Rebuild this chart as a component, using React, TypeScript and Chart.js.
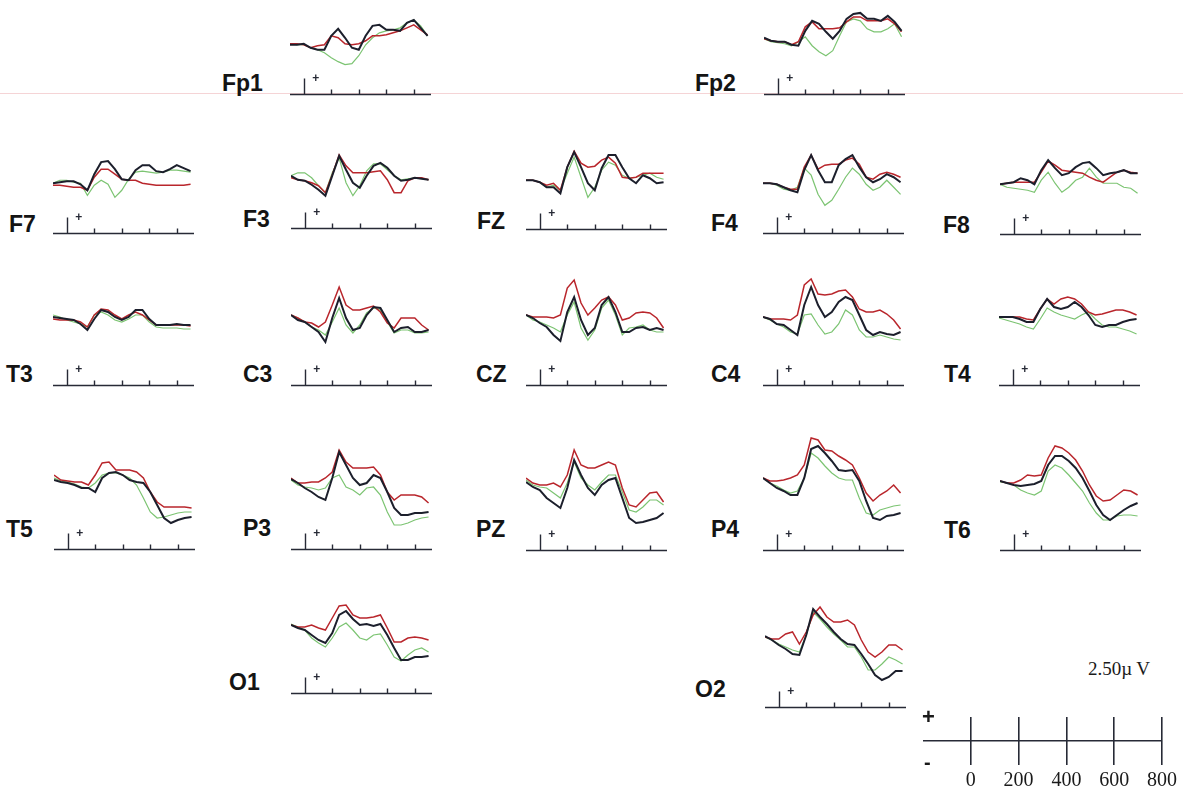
import React, { useEffect, useRef } from "react";
import { Chart, registerables } from "chart.js";

Chart.register(...registerables);

// ---------------- data ----------------
const times = [-100, -50, 0, 50, 100, 150, 200, 250, 300, 350, 400, 450, 500, 550, 600, 650, 700, 750, 800, 850, 900];
const axisTicks = [0, 200, 400, 600, 800];
const scaleTicks = [0, 200, 400, 600, 800];
const scaleAmplitude = "2.50µ";
const scaleUnit = "V";

const fp1Black = [-0.1, -0.1, 0, -0.4, -0.6, -0.6, 0.8, 1.5, 0.6, -0.4, -0.6, 0.8, 1.8, 1.9, 1.4, 1.4, 1.3, 2.1, 2.4, 1.6, 0.8];
const fp1Red = [0, 0, -0.1, -0.4, -0.2, -0.1, 0.8, 0.6, 0, -0.1, 0, 0.3, 0.8, 0.8, 0.9, 1.1, 1.3, 1.6, 1.9, 1.4, 0.9];
const fp1Green = [0, -0.1, -0.1, -0.4, -0.6, -0.9, -1.4, -1.8, -2.1, -2, -1.2, -0.1, 0.6, 1.1, 1.3, 1.4, 1.6, 2.1, 2.4, 1.8, 0.8];

const fp2Black = [0.1, -0.2, -0.3, -0.3, -0.6, -0.7, 0.8, 1.8, 1.5, 0.7, 0, 0.8, 2, 2.5, 2.6, 2, 2, 1.8, 2.3, 1.7, 0.8];
const fp2Red = [0, -0.2, -0.3, -0.3, -0.6, -0.3, 1.2, 1.7, 1, 1, 1, 1.1, 1.7, 2.2, 2.2, 1.8, 1.8, 1.8, 2, 1.5, 0.7];
const fp2Green = [0, -0.3, -0.4, -0.5, -0.7, -0.3, 0.2, -0.7, -1.3, -1.7, -1.2, 0.3, 1.7, 2, 1.8, 1, 0.7, 0.7, 1, 1.5, 0.2];

const f7Black = [0, 0.1, 0.2, 0.2, -0.1, -0.7, 0.9, 2.1, 2.2, 1.4, 0.4, 0.3, 1.3, 1.8, 1.8, 1.2, 1.1, 1.4, 1.8, 1.5, 1.2];
const f7Red = [-0.2, -0.2, -0.3, -0.4, -0.4, -0.7, 0.6, 1.4, 1.4, 0.9, 0.4, 0.3, 0.3, 0, -0.1, -0.2, -0.2, -0.2, -0.2, -0.2, -0.1];
const f7Green = [0, 0.3, 0.3, 0.1, 0, -1.2, -0.2, 0.3, -0.1, -1.4, -0.7, 0.4, 1.1, 1.2, 1.1, 1, 1.1, 1.3, 1.3, 1.2, 1.1];

const f3Black = [0.2, -0.2, -0.3, -0.7, -1.2, -1.8, 0.2, 2.2, 0.8, -0.5, -1, 0.2, 1.2, 1.5, 1, 0.2, -0.3, -0.2, 0, -0.1, -0.2];
const f3Red = [0, -0.2, -0.3, -0.5, -0.8, -1.5, 0.3, 2.3, 1.2, 0.5, 0.5, 0.5, 0.6, 0.7, -0.2, -1.5, -1.5, -0.3, 0, 0, -0.2];
const f3Green = [0.2, 0.5, 0.5, 0, -0.8, -1.5, 0.5, 2, -0.5, -1.8, -0.8, 0.7, 1.4, 1.4, 0.8, 0.2, -0.2, -0.1, 0, -0.1, -0.2];

const fzBlack = [0, 0, -0.2, -0.7, -0.7, -1.3, 1.3, 2.8, 1.3, -0.3, -1, 1.2, 2.5, 2.5, 1.3, 0.2, -0.3, 0.5, 0.2, -0.3, -0.2];
const fzRed = [0, 0, -0.2, -0.5, -0.3, -1, 1.3, 2.9, 1.7, 1.3, 1.4, 2, 2.3, 1.7, 0.3, 0.2, 0.3, 0.7, 0.7, 0.7, 0.7];
const fzGreen = [0, 0, -0.2, -0.7, -0.5, -1, 0.7, 2.3, 0.3, -1.7, -0.7, 1, 1.8, 1.5, 0.5, 0.2, 0.3, 0.5, 0.7, 0.3, 0.1];

const f4Black = [0, 0, -0.1, -0.4, -0.7, -0.9, 1.3, 2.8, 1.3, 0.1, 0.1, 1.8, 2.4, 2.8, 1.6, 0.6, 0.1, 0.4, 0.9, 0.6, 0.1];
const f4Red = [0, 0, -0.1, -0.4, -0.6, -0.6, 1.6, 2.8, 1.4, 1.8, 1.9, 1.9, 2.3, 2.5, 1.9, 0.6, 0.4, 0.9, 1.1, 0.9, 0.6];
const f4Green = [0, 0, -0.2, -0.6, -0.7, -0.4, 1.5, 0.8, -1.1, -2.2, -1.7, -0.6, 0.6, 1.5, 0.9, -0.1, -0.7, -0.4, 0.3, -0.4, -1.1];

const f8Black = [0, 0.1, 0.2, 0.6, 0.4, 0, 1.4, 2.4, 1.6, 0.9, 1.1, 1.7, 2.1, 2.2, 1.6, 0.9, 1.1, 1.2, 1.4, 1.1, 1.1];
const f8Red = [0, 0.1, 0.2, 0.2, 0.2, 0.2, 1.2, 2.3, 1.9, 1.4, 1.3, 1.2, 1.1, 0.7, 0.4, 0.2, 0.7, 1.2, 1.4, 1.2, 1.1];
const f8Green = [0, -0.3, -0.4, -0.5, -0.6, -0.8, 0.4, 1.2, 0.1, -0.8, -0.3, 0.4, 0.7, 1.6, 0.7, 0.1, 0.1, 0.1, -0.3, -0.4, -0.9];

const t3Black = [0, -0.1, -0.2, -0.3, -0.7, -1.3, -0.2, 0.7, 0.5, 0, -0.3, 0, 0.7, 0.7, -0.2, -0.8, -0.8, -0.8, -0.7, -0.8, -0.8];
const t3Red = [-0.2, -0.3, -0.3, -0.3, -0.5, -1, 0.2, 0.8, 0.7, 0.2, -0.2, 0.2, 0.5, 0.2, -0.3, -0.8, -0.8, -0.8, -0.8, -0.8, -0.9];
const t3Green = [0.2, 0, -0.3, -0.5, -0.7, -1, 0.2, 0.5, 0.2, -0.3, -0.5, -0.2, 0.2, 0.2, -0.5, -1, -1.1, -1.1, -1.1, -1.2, -1.2];

const c3Black = [0, -0.5, -0.7, -1.2, -1.7, -2.7, -0.3, 1.7, -0.3, -1.5, -1.3, 0, 0.8, 0.7, -0.5, -1.7, -1.3, -1.2, -1.7, -1.7, -1.5];
const c3Red = [0, -0.3, -0.7, -0.8, -1.2, -0.7, 1, 2.8, 1, 0.5, 0.5, 0.7, 0.9, 0.3, -0.8, -1.3, -0.3, -0.3, -0.3, -1, -1.5];
const c3Green = [0, -0.3, -0.7, -1.2, -1.5, -2, -0.7, 0.7, -1, -1.8, -1, 0.2, 0.7, 0.5, -0.7, -1.8, -1.5, -1.5, -1.8, -1.8, -1.7];

const czBlack = [0, -0.3, -0.8, -1.2, -2, -2.6, 0.3, 1.8, -0.5, -2, -1.3, 1, 1.8, 0.3, -1.7, -1.7, -1.3, -1.2, -1.5, -1.3, -1.5];
const czRed = [0, -0.2, -0.2, -0.2, -0.3, 0, 2.7, 3.5, 1.2, 0, 0.7, 1.5, 1.8, 1, -0.5, -0.3, 0.2, 0.3, 0.2, -0.3, -1.3];
const czGreen = [0, -0.5, -0.7, -1, -1.3, -1.7, 0, 1.3, -1.3, -2.5, -1.5, 0.7, 1.5, 0, -2, -1.3, -1.2, -1, -1.5, -1.7, -1.7];

const c4Black = [0, -0.2, -0.7, -0.8, -1.3, -1.8, 1.2, 3, 1.2, 0, 0.5, 1.5, 2, 1.7, 0.2, -1.3, -1.8, -1.5, -1.7, -1.8, -1.5];
const c4Red = [0, -0.2, -0.2, -0.2, -0.3, 0.2, 3.2, 3.8, 2.3, 2.2, 2.3, 2.6, 2.7, 2, 0.8, 0.5, 0.5, 0.7, 0.3, -0.3, -1.2];
const c4Green = [0, -0.3, -0.7, -1, -1.5, -1.7, 0.2, 0.3, -0.8, -1.7, -1.5, -0.7, 0.7, 0.2, -1.3, -2, -2, -1.8, -2, -2.2, -2.3];

const t4Black = [0, 0, 0, -0.2, -0.5, -0.5, 0.8, 1.8, 1, 0.8, 1, 1.5, 1, 0.2, -0.8, -1, -0.8, -0.8, -0.5, -0.3, -0.2];
const t4Red = [0, 0, 0, 0, -0.2, -0.3, 0.8, 1.8, 1.3, 1.8, 2, 1.8, 1.3, 0.5, 0.2, 0.3, 0.5, 0.7, 0.7, 0.5, 0.2];
const t4Green = [-0.1, -0.3, -0.5, -0.7, -1, -1.2, -0.2, 0.9, 0.5, 0.2, 0, -0.2, 0.2, 0.5, -0.2, -0.8, -1, -1, -1.2, -1.4, -1.7];

const t5Black = [0, -0.2, -0.3, -0.5, -0.8, -0.8, -1.2, 0.2, 0.7, 0.8, 0.5, 0, -0.2, -0.3, -1.2, -2.5, -3.8, -4.3, -4, -3.8, -3.7];
const t5Red = [0.5, 0, -0.1, -0.2, -0.2, -0.5, 0.5, 1.7, 1.8, 1, 1, 1, 0.8, 0.2, -1.2, -2.2, -2.7, -2.7, -2.7, -2.7, -2.8];
const t5Green = [0.2, -0.1, -0.2, -0.4, -0.7, -0.8, -0.3, 0.5, 0.7, 0.7, 0.5, 0.2, -0.5, -1.8, -3.2, -3.8, -3.7, -3.5, -3.3, -3.2, -3.2];

const p3Black = [0.1, -0.3, -0.8, -1.2, -1.7, -2, 0.2, 2.8, 1.5, 0.2, -0.5, -0.3, 0.5, 0.2, -1.2, -2.8, -3.5, -3.5, -3.3, -3.3, -3.2];
const p3Red = [0.2, -0.3, -0.3, -0.2, -0.2, 0.2, 0.8, 3, 1.8, 1.2, 1.2, 1.2, 1.3, 0.5, -1.2, -2, -1.5, -1.5, -1.5, -1.7, -2.3];
const p3Green = [0, -0.5, -0.7, -0.8, -1, -0.8, 0.2, 0.5, -0.7, -1, -1.5, -0.8, -0.7, -1.5, -3.2, -4.5, -4.5, -4.3, -4, -3.8, -3.7];

const pzBlack = [-0.2, -0.7, -1, -1.8, -2.3, -2.8, -0.8, 2, 0.5, -0.8, -1.5, -0.5, 0, 0.2, -1.8, -3.8, -4.3, -4.2, -4, -3.8, -3.3];
const pzRed = [0.2, -0.3, -0.5, -0.5, -0.3, -0.7, 0.5, 3, 1.5, 1.2, 1.2, 1.5, 1.8, 1.5, -0.8, -2.5, -2.7, -2, -1.3, -1.2, -2.2];
const pzGreen = [0, -0.5, -0.7, -0.8, -1.3, -1.8, -0.3, 1.8, 0.2, -0.5, -1, -0.2, 0.5, 0.5, -1.2, -3, -3.2, -2.7, -2, -2, -2.5];

const p4Black = [0, -0.5, -1, -1.3, -1.7, -1.7, 0, 2.9, 3.2, 2.5, 1.7, 0.8, 0.7, 0.8, -0.3, -2.3, -4, -4.2, -3.8, -3.7, -3.5];
const p4Red = [0, -0.3, -0.3, -0.2, 0, 0.3, 1.3, 4, 3.8, 2.8, 2.7, 2.2, 1.8, 1.3, 0, -1.5, -2.3, -1.7, -1.3, -0.7, -1.5];
const p4Green = [0, -0.5, -0.8, -1.2, -1.5, -1.3, 0, 2.5, 2, 1.2, 0.5, 0, -0.2, -0.2, -2, -3.5, -3.7, -3.2, -3, -2.8, -2.7];

const t6Black = [0.1, -0.1, -0.3, -0.4, -0.3, -0.2, 0.1, 1.7, 2.6, 2.6, 2.1, 1.4, 0.4, -0.9, -2.3, -3.3, -3.8, -3.3, -2.8, -2.4, -2.1];
const t6Red = [0.1, -0.1, -0.1, 0.2, 0.7, 0.6, 0.7, 2.4, 3.6, 3.4, 2.9, 2.2, 1.1, -0.3, -1.4, -1.9, -1.8, -1.3, -0.8, -0.9, -1.3];
const t6Green = [0, -0.1, -0.3, -0.8, -1.1, -1.3, -0.9, 1.1, 1.7, 1.4, 0.7, -0.1, -0.9, -2.1, -3.1, -3.8, -3.8, -3.4, -3.3, -3.3, -3.4];

const o1Black = [0, -0.3, -0.5, -1, -1.5, -1.8, -0.8, 1, 1.4, 0.6, 0, 0.1, -0.1, 0.1, -1, -2.3, -3.5, -3.5, -3.2, -3.2, -3.1];
const o1Red = [0, -0.2, -0.2, 0, -0.3, -0.5, 0.7, 1.9, 2, 1, 0.7, 0.7, 0.8, 1, -0.3, -1.7, -1.7, -1.3, -1.2, -1.3, -1.5];
const o1Green = [0.1, -0.2, -0.5, -1.3, -1.8, -2.2, -1.3, -0.2, 0.2, -0.5, -1.3, -1.5, -1, -0.9, -2, -3.2, -3.6, -3, -2.5, -2.3, -2.7];

const o2Black = [0.1, -0.3, -0.8, -1.2, -1.7, -1.8, 0.2, 2.8, 2, 1.3, 0.5, -0.2, -0.7, -0.8, -1.7, -2.7, -3.8, -4.3, -4, -3.4, -3.4];
const o2Red = [0, -0.2, -0.2, 0.3, 0.5, -0.7, 0.5, 2.2, 3, 2, 1.5, 1.5, 1.7, 1.2, -0.3, -1.5, -2, -1.5, -0.8, -0.8, -1.3];
const o2Green = [0, -0.3, -0.7, -1, -1.3, -1.5, 0.2, 2.5, 1.8, 1, 0.3, -0.3, -1, -1, -2, -3.3, -3.3, -2.7, -2, -2.3, -2.7];

// ---------------- layout / style ----------------
const X_MIN = -100;
const X_MAX = 925;
const PX_PER_MS = 0.1376;
const PX_PER_UV = 10;
const Y_MAX = 4.6;
const BLACK = "#1c1f2c";
const RED = "#b9262c";
const GREEN = "#7cc472";
const AXIS = "#272a36";
const LABEL_FONT = '"Liberation Sans", Arial, Helvetica, sans-serif';
const SERIF = '"Liberation Serif", "Times New Roman", serif';

type PanelDef = {
  name: string;
  black: number[];
  red: number[];
  green: number[];
  zeroX: number;
  baseY: number;
  axisY: number;
  labelX: number;
  labelY: number;
};

const panels: PanelDef[] = [
  { name: "Fp1", black: fp1Black, red: fp1Red, green: fp1Green, zeroX: 304, baseY: 44, axisY: 94.5, labelX: 222, labelY: 91 },
  { name: "Fp2", black: fp2Black, red: fp2Red, green: fp2Green, zeroX: 778, baseY: 39, axisY: 94.5, labelX: 695, labelY: 91 },
  { name: "F7", black: f7Black, red: f7Red, green: f7Green, zeroX: 67, baseY: 183, axisY: 232.5, labelX: 9, labelY: 232 },
  { name: "F3", black: f3Black, red: f3Red, green: f3Green, zeroX: 304.5, baseY: 178, axisY: 228.5, labelX: 243, labelY: 227 },
  { name: "FZ", black: fzBlack, red: fzRed, green: fzGreen, zeroX: 540, baseY: 180, axisY: 228.5, labelX: 477, labelY: 229 },
  { name: "F4", black: f4Black, red: f4Red, green: f4Green, zeroX: 777, baseY: 183, axisY: 232.5, labelX: 711, labelY: 231 },
  { name: "F8", black: f8Black, red: f8Red, green: f8Green, zeroX: 1014, baseY: 184, axisY: 233.5, labelX: 943, labelY: 233 },
  { name: "T3", black: t3Black, red: t3Red, green: t3Green, zeroX: 67, baseY: 317, axisY: 385, labelX: 6, labelY: 382 },
  { name: "C3", black: c3Black, red: c3Red, green: c3Green, zeroX: 305, baseY: 315, axisY: 385, labelX: 243, labelY: 382 },
  { name: "CZ", black: czBlack, red: czRed, green: czGreen, zeroX: 540, baseY: 315, axisY: 385, labelX: 476, labelY: 382 },
  { name: "C4", black: c4Black, red: c4Red, green: c4Green, zeroX: 777, baseY: 317, axisY: 385, labelX: 711, labelY: 382 },
  { name: "T4", black: t4Black, red: t4Red, green: t4Green, zeroX: 1013, baseY: 317, axisY: 385, labelX: 944, labelY: 382 },
  { name: "T5", black: t5Black, red: t5Red, green: t5Green, zeroX: 67.5, baseY: 480, axisY: 549, labelX: 6, labelY: 537 },
  { name: "P3", black: p3Black, red: p3Red, green: p3Green, zeroX: 305, baseY: 480, axisY: 549, labelX: 243, labelY: 536 },
  { name: "PZ", black: pzBlack, red: pzRed, green: pzGreen, zeroX: 539.5, baseY: 480, axisY: 550, labelX: 476, labelY: 537 },
  { name: "P4", black: p4Black, red: p4Red, green: p4Green, zeroX: 777, baseY: 478, axisY: 550, labelX: 711, labelY: 537 },
  { name: "T6", black: t6Black, red: t6Red, green: t6Green, zeroX: 1014, baseY: 482, axisY: 550, labelX: 944, labelY: 538 },
  { name: "O1", black: o1Black, red: o1Red, green: o1Green, zeroX: 305, baseY: 625, axisY: 693, labelX: 229, labelY: 690 },
  { name: "O2", black: o2Black, red: o2Red, green: o2Green, zeroX: 779, baseY: 637, axisY: 707, labelX: 695, labelY: 697 },
];

// draws the time axis (baseline + tick marks + stimulus marker) from the chart's own scales
const eegAxisPlugin = {
  id: "eegAxis",
  afterDatasetsDraw(chart: any) {
    const { ctx } = chart;
    const x = chart.scales.x;
    const y = chart.scales.y;
    const yAxis = Math.round(y.getPixelForValue(y.min)) + 0.5;
    ctx.save();
    ctx.strokeStyle = AXIS;
    ctx.lineWidth = 1.4;
    ctx.beginPath();
    ctx.moveTo(x.getPixelForValue(x.min), yAxis);
    ctx.lineTo(x.getPixelForValue(x.max), yAxis);
    axisTicks.forEach((t) => {
      const px = Math.round(x.getPixelForValue(t)) + 0.5;
      ctx.moveTo(px, yAxis);
      ctx.lineTo(px, yAxis - (t === 0 ? 16 : 5));
    });
    ctx.stroke();
    ctx.fillStyle = AXIS;
    ctx.font = `bold 12px ${LABEL_FONT}`;
    ctx.textAlign = "center";
    ctx.textBaseline = "middle";
    ctx.fillText("+", x.getPixelForValue(0) + 12, yAxis - 16);
    ctx.restore();
  },
};

function EegPanel({ p }: { p: PanelDef }) {
  const ref = useRef<HTMLCanvasElement>(null);
  const padX = 4;
  const padTop = 4;
  const padBottom = 3;
  const yMin = -(p.axisY - p.baseY) / PX_PER_UV;
  const plotW = Math.round((X_MAX - X_MIN) * PX_PER_MS);
  const plotH = (Y_MAX - yMin) * PX_PER_UV;
  const w = plotW + 2 * padX;
  const h = Math.round(plotH + padTop + padBottom);
  const left = Math.round(p.zeroX + X_MIN * PX_PER_MS) - padX;
  const top = Math.round(p.baseY - Y_MAX * PX_PER_UV) - padTop;

  useEffect(() => {
    if (!ref.current) return;
    const pts = (arr: number[]) => times.map((t, i) => ({ x: t, y: arr[i] }));
    const chart = new Chart(ref.current, {
      type: "line",
      data: {
        datasets: [
          { label: "black", data: pts(p.black), borderColor: BLACK, borderWidth: 2, pointRadius: 0, tension: 0 },
          { label: "red", data: pts(p.red), borderColor: RED, borderWidth: 1.5, pointRadius: 0, tension: 0 },
          { label: "green", data: pts(p.green), borderColor: GREEN, borderWidth: 1.2, pointRadius: 0, tension: 0 },
        ],
      },
      options: {
        animation: false,
        responsive: false,
        maintainAspectRatio: false,
        events: [],
        layout: { padding: { left: padX, right: padX, top: padTop, bottom: h - padTop - Math.round(plotH) } },
        plugins: { legend: { display: false }, tooltip: { enabled: false }, title: { display: false } },
        scales: {
          x: { type: "linear", min: X_MIN, max: X_MAX, display: false },
          y: { type: "linear", min: yMin, max: Y_MAX, display: false },
        },
      },
      plugins: [eegAxisPlugin],
    } as any);
    return () => chart.destroy();
  }, []);

  return (
    <>
      <div
        style={{
          position: "absolute",
          left: p.labelX,
          top: p.labelY - 19.5,
          fontFamily: LABEL_FONT,
          fontWeight: 700,
          fontSize: 23,
          lineHeight: "23px",
          color: "#141414",
          whiteSpace: "nowrap",
        }}
      >
        {p.name}
      </div>
      <canvas ref={ref} width={w} height={h} style={{ position: "absolute", left, top, width: w, height: h }} />
    </>
  );
}

function ScaleBar() {
  const ref = useRef<HTMLCanvasElement>(null);
  const padL = 10;
  const padR = 24;
  const padTop = 4;
  const plotLeft = 923;
  const plotTop = 717;
  const plotW = 239;
  const plotH = 46;
  const w = plotW + padL + padR;
  const h = padTop + plotH + 34;
  useEffect(() => {
    if (!ref.current) return;
    const chart = new Chart(ref.current, {
      type: "line",
      data: { datasets: [] },
      options: {
        animation: false,
        responsive: false,
        maintainAspectRatio: false,
        events: [],
        layout: { padding: { left: padL, right: padR, top: padTop, bottom: 0 } },
        plugins: { legend: { display: false }, tooltip: { enabled: false } },
        scales: {
          x: {
            type: "linear",
            min: -200,
            max: 800,
            position: "bottom",
            afterBuildTicks: (s: any) => {
              s.ticks = scaleTicks.map((v) => ({ value: v }));
            },
            ticks: { font: { family: SERIF, size: 20 }, color: "#1a1a1a", padding: 4, maxRotation: 0, autoSkip: false },
            grid: { color: AXIS, lineWidth: 1.6, drawTicks: false, drawOnChartArea: true },
            border: { display: false },
          },
          y: {
            type: "linear",
            min: -2.5,
            max: 2.5,
            afterBuildTicks: (s: any) => {
              s.ticks = [{ value: 0 }];
            },
            ticks: { display: false },
            grid: { color: AXIS, lineWidth: 1.6, drawTicks: false },
            border: { display: false },
          },
        },
      },
    } as any);
    return () => chart.destroy();
  }, []);
  return (
    <>
      <canvas
        ref={ref}
        width={w}
        height={h}
        style={{ position: "absolute", left: plotLeft - padL, top: plotTop - padTop, width: w, height: h }}
      />
      <div style={{ position: "absolute", left: 922, top: 706, fontFamily: LABEL_FONT, fontWeight: 700, fontSize: 22, lineHeight: "22px", color: "#1a1a1a" }}>+</div>
      <div style={{ position: "absolute", left: 924, top: 752, fontFamily: LABEL_FONT, fontWeight: 700, fontSize: 20, lineHeight: "20px", color: "#1a1a1a" }}>-</div>
      <div style={{ position: "absolute", left: 1088, top: 659, fontFamily: SERIF, fontSize: 19, lineHeight: "19px", color: "#1a1a1a", whiteSpace: "nowrap" }}>
        <span>{scaleAmplitude}</span>
        <span style={{ marginLeft: 4 }}>{scaleUnit}</span>
      </div>
    </>
  );
}

export default function App() {
  return (
    <div
      style={{
        position: "fixed",
        left: 0,
        top: 0,
        width: 1183,
        height: 797,
        background: "#ffffff",
        overflow: "hidden",
      }}
    >
      <div style={{ position: "absolute", left: 0, top: 93, width: 1183, height: 1, background: "rgba(236,176,180,0.55)" }} />
      {panels.map((p) => (
        <EegPanel key={p.name} p={p} />
      ))}
      <ScaleBar />
    </div>
  );
}
